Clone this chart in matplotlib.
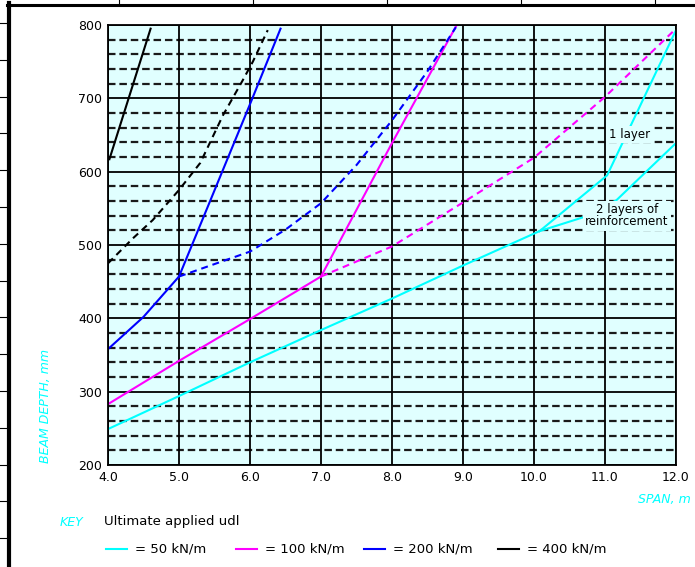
import matplotlib
matplotlib.use("Agg")
import matplotlib.pyplot as plt
from matplotlib.lines import Line2D

plt.rcParams['font.family'] = ['DejaVu Sans']
plt.rcParams['lines.scale_dashes'] = False

# ---- data ----
x_ticks = [4.0, 5.0, 6.0, 7.0, 8.0, 9.0, 10.0, 11.0, 12.0]
x_tick_labels = ["4.0", "5.0", "6.0", "7.0", "8.0", "9.0", "10.0", "11.0", "12.0"]
y_ticks = [200, 300, 400, 500, 600, 700, 800]

span_50 = [4.0, 5.0, 6.0, 7.0, 8.0, 9.0, 10.08]
depth_50 = [249, 294, 340, 384, 427, 472, 519]
span_50_1layer = [10.08, 11.03, 12.0]
depth_50_1layer = [519, 595, 793]
span_50_2layer = [10.08, 10.7, 11.16, 12.0]
depth_50_2layer = [519, 538, 561, 639]

span_100 = [4.0, 5.0, 6.0, 7.0]
depth_100 = [283, 342, 399, 457]
span_100_solid = [7.0, 8.0, 8.9]
depth_100_solid = [457, 639, 798]
span_100_dash = [7.0, 8.0, 9.0, 10.0, 11.0, 12.0]
depth_100_dash = [457, 498, 558, 619, 702, 795]

span_200 = [4.0, 4.5, 5.0]
depth_200 = [358, 402, 457]
span_200_solid = [5.0, 6.0, 6.43]
depth_200_solid = [457, 692, 795]
span_200_dash = [5.0, 5.5, 6.0, 6.5, 7.0, 7.5, 8.0, 8.5, 8.9]
depth_200_dash = [457, 474, 491, 521, 557, 609, 670, 737, 797]

span_400_solid = [4.02, 4.6]
depth_400_solid = [617, 795]
span_400_dash = [4.0, 4.35, 4.63, 5.0, 5.3, 5.62, 5.9, 6.04, 6.25]
depth_400_dash = [475, 509, 534, 575, 612, 677, 725, 750, 793]

legend_labels = ["= 50 kN/m", "= 100 kN/m", "= 200 kN/m", "= 400 kN/m"]
legend_colors = ["#00ffff", "#ff00ff", "#0000ff", "#000000"]

W, H = 695, 567
fig = plt.figure(figsize=(W / 100, H / 100), dpi=100)
fig.patch.set_facecolor("white")

def fx(x):
    return x / W

def fy(y):
    return 1 - y / H

ax = fig.add_axes([fx(108), fy(465), fx(676) - fx(108), fy(25) - fy(465)])
ax.set_facecolor("#e0ffff")
ax.set_xlim(4, 12)
ax.set_ylim(200, 800)

# grid
for v in range(200, 801, 20):
    if v % 100 == 0:
        ax.axhline(v, color="black", lw=1.3, zorder=1)
    else:
        ax.axhline(v, color="#1a1a1a", lw=1.6, dashes=(5.4, 2.8), zorder=1)
for xv in x_ticks:
    ax.axvline(xv, color="black", lw=1.3, zorder=1)

cy, mg, bl, bk = legend_colors
lw = 1.5
dsh = (5, 3.5)
ax.plot(span_50, depth_50, color=cy, lw=lw, zorder=3)
ax.plot(span_50_1layer, depth_50_1layer, color=cy, lw=lw, zorder=3)
ax.plot(span_50_2layer, depth_50_2layer, color=cy, lw=lw, zorder=3)
ax.plot(span_100, depth_100, color=mg, lw=lw, zorder=3)
ax.plot(span_100_solid, depth_100_solid, color=mg, lw=lw, zorder=3)
ax.plot(span_100_dash, depth_100_dash, color=mg, lw=lw, dashes=dsh, zorder=3)
ax.plot(span_200, depth_200, color=bl, lw=lw, zorder=3)
ax.plot(span_200_solid, depth_200_solid, color=bl, lw=lw, zorder=3)
ax.plot(span_200_dash, depth_200_dash, color=bl, lw=lw, dashes=dsh, zorder=3)
ax.plot(span_400_solid, depth_400_solid, color=bk, lw=lw, zorder=3)
ax.plot(span_400_dash, depth_400_dash, color=bk, lw=lw, dashes=dsh, zorder=3)

bbox = dict(facecolor="#e0ffff", edgecolor="none", pad=1.5)
ax.text(11.35, 651, "1 layer", fontsize=8.5, ha="center", va="center",
        bbox=bbox, zorder=4)
ax.text(11.31, 540, "2 layers of\nreinforcement", fontsize=8.5, ha="center",
        va="center", bbox=bbox, zorder=4, linespacing=0.95)

ax.set_xticks(x_ticks)
ax.set_xticklabels(x_tick_labels)
ax.set_yticks(y_ticks)
ax.tick_params(length=0, labelsize=9, pad=4)
for s in ax.spines.values():
    s.set_color("black")
    s.set_linewidth(1.3)
    s.set_zorder(5)

# axis labels
fig.text(fx(46), fy(406), "BEAM DEPTH, mm", rotation=90, color="#00ffff",
         fontsize=9, style="italic", ha="center", va="center")
fig.text(fx(691), fy(499), "SPAN, m", color="#00ffff", fontsize=9,
         style="italic", ha="right", va="center")

# key
fig.text(fx(60), fy(522), "KEY", color="#00ffff", fontsize=9, style="italic",
         ha="left", va="center")
fig.text(fx(104), fy(522), "Ultimate applied udl", color="black", fontsize=9.5,
         ha="left", va="center")
seg_x = [106, 236, 364, 498]
for sx, lab, col in zip(seg_x, legend_labels, legend_colors):
    fig.add_artist(Line2D([fx(sx), fx(sx + 21)], [fy(549), fy(549)], color=col,
                          lw=1.5, transform=fig.transFigure))
    fig.text(fx(sx + 29), fy(549), lab, color="black", fontsize=9.5,
             ha="left", va="center")

# page frame
fig.add_artist(Line2D([fx(9), fx(9)], [fy(3), fy(567)], color="black", lw=3,
                      transform=fig.transFigure))
fig.add_artist(Line2D([fx(7), fx(695)], [fy(4.5), fy(4.5)], color="black",
                      lw=2.2, transform=fig.transFigure))
for i in range(15):
    yy = 23 + 36.8 * i
    fig.add_artist(Line2D([fx(0), fx(8)], [fy(yy), fy(yy)], color="black",
                          lw=0.8, transform=fig.transFigure))
for xx in [119, 253, 387, 521, 655]:
    fig.add_artist(Line2D([fx(xx), fx(xx)], [fy(0), fy(3)], color="black",
                          lw=0.8, transform=fig.transFigure))

fig.savefig("out.png", dpi=100)
